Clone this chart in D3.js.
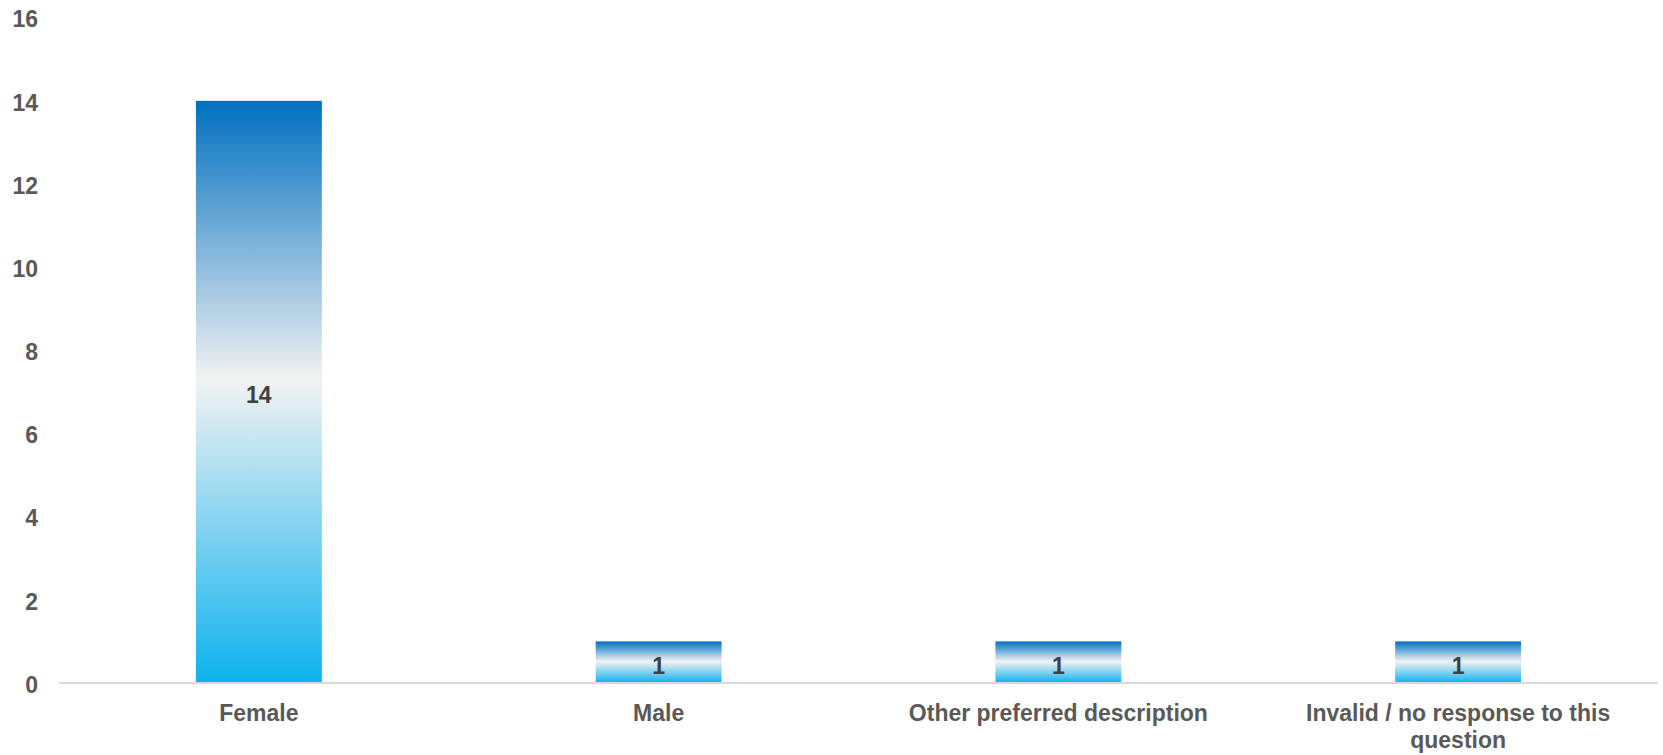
<!DOCTYPE html>
<html>
<head>
<meta charset="utf-8">
<script src="https://cdn.jsdelivr.net/npm/d3@7"></script>
<style>
  html, body { margin: 0; padding: 0; background: #ffffff; }
  svg { display: block; }
  text { font-family: "Liberation Sans", Arial, sans-serif; font-weight: bold; }
</style>
</head>
<body>
<svg id="chart" width="1663" height="755"></svg>
<script>
// Responses by gender
const categories = ["Female", "Male", "Other preferred description", "Invalid / no response to this question"];
const counts = [14, 1, 1, 1];
const yTicks = [0, 2, 4, 6, 8, 10, 12, 14, 16];

const W = 1663, H = 755;
const FONT = "23px";
const margin = { top: 17.7, right: 5, bottom: 72, left: 59 };
const innerW = W - margin.left - margin.right;
const innerH = H - margin.top - margin.bottom;

const svg = d3.select("#chart");

// Vertical gradient: deep blue at top, near-white in the middle, cyan at bottom
const defs = svg.append("defs");
const grad = defs.append("linearGradient")
  .attr("id", "barGrad")
  .attr("x1", 0).attr("y1", 0).attr("x2", 0).attr("y2", 1);
grad.append("stop").attr("offset", "0%").attr("stop-color", "#0070C0");
grad.append("stop").attr("offset", "48%").attr("stop-color", "#F2F2F2");
grad.append("stop").attr("offset", "100%").attr("stop-color", "#0CB2EE");

const g = svg.append("g").attr("transform", `translate(${margin.left},${margin.top})`);

const x = d3.scaleBand().domain(categories).range([0, innerW]).paddingInner(0.685).paddingOuter(0.3425);
const y = d3.scaleLinear().domain([0, 16]).range([innerH, 0]);

// Bars
g.selectAll("rect.bar")
  .data(categories.map((c, i) => ({ c, v: counts[i] })))
  .join("rect")
  .attr("class", "bar")
  .attr("x", d => x(d.c))
  .attr("width", x.bandwidth())
  .attr("y", d => y(d.v))
  .attr("height", d => y(0) - y(d.v))
  .attr("fill", "url(#barGrad)");

// Baseline
g.append("line")
  .attr("x1", 0).attr("x2", innerW)
  .attr("y1", y(0)).attr("y2", y(0))
  .attr("stroke", "#D9D9D9").attr("stroke-width", 2);

// Y axis labels (no axis line or ticks)
const yAxis = g.append("g").call(d3.axisLeft(y).tickValues(yTicks).tickSize(0).tickPadding(21));
yAxis.select(".domain").remove();
yAxis.selectAll("text")
  .attr("fill", "#595959")
  .attr("dy", "0.4em")
  .style("font-size", FONT)
  .style("font-family", "'Liberation Sans', Arial, sans-serif")
  .style("font-weight", "bold");

// Category labels, wrapped to fit the category width
const xLabels = g.append("g").attr("transform", `translate(0,${innerH})`);
function wrap(text, width) {
  const words = text.split(" ");
  const lines = [];
  let line = [];
  const meas = g.append("text").style("font-size", FONT).attr("visibility", "hidden");
  words.forEach(w => {
    const trial = line.concat([w]).join(" ");
    meas.text(trial);
    if (meas.node().getComputedTextLength() > width && line.length) {
      lines.push(line.join(" "));
      line = [w];
    } else {
      line.push(w);
    }
  });
  lines.push(line.join(" "));
  meas.remove();
  return lines;
}
categories.forEach(c => {
  const lines = wrap(c, 340);
  const t = xLabels.append("text")
    .attr("x", x(c) + x.bandwidth() / 2)
    .attr("y", 38)
    .attr("text-anchor", "middle")
    .attr("fill", "#595959")
    .style("font-size", FONT);
  lines.forEach((l, i) => {
    t.append("tspan").attr("x", x(c) + x.bandwidth() / 2).attr("dy", i === 0 ? 0 : 27).text(l);
  });
});

// Value labels at the middle of each bar
g.selectAll("text.val")
  .data(categories.map((c, i) => ({ c, v: counts[i] })))
  .join("text")
  .attr("class", "val")
  .attr("x", d => x(d.c) + x.bandwidth() / 2)
  .attr("y", d => (y(d.v) + y(0)) / 2)
  .attr("dy", "0.5em")
  .attr("text-anchor", "middle")
  .attr("fill", "#404040")
  .style("font-size", FONT)
  .text(d => d.v);
</script>
</body>
</html>
